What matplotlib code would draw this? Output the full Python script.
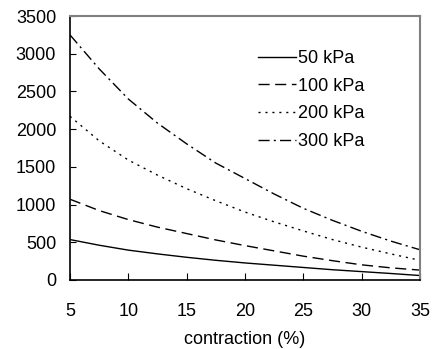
import matplotlib
matplotlib.use("Agg")
import matplotlib.pyplot as plt

# contraction (%) and readings for each pressure
contraction = [5, 7.5, 10, 12.5, 15, 17.5, 20, 22.5, 25, 27.5, 30, 32.5, 35]
kpa_50 = [535, 460, 395, 345, 300, 260, 225, 195, 165, 135, 110, 85, 58]
kpa_100 = [1070, 920, 800, 700, 615, 530, 455, 385, 315, 255, 200, 160, 130]
kpa_200 = [2170, 1845, 1590, 1390, 1210, 1050, 900, 770, 650, 535, 435, 345, 260]
kpa_300 = [3250, 2800, 2400, 2080, 1805, 1550, 1345, 1140, 950, 790, 645, 515, 400]

labels = ["50 kPa", "100 kPa", "200 kPa", "300 kPa"]
x_ticks = [5, 10, 15, 20, 25, 30, 35]
y_ticks = [0, 500, 1000, 1500, 2000, 2500, 3000, 3500]


def main():
    plt.rcParams["font.family"] = ["Liberation Sans", "DejaVu Sans"]
    fig = plt.figure(figsize=(4.32, 3.49), dpi=100)
    ax = fig.add_axes([0.162, 0.198, 0.810, 0.756])

    ax.plot(contraction, kpa_50, color="black", lw=1.0, ls="-",
            label=labels[0])
    ax.plot(contraction, kpa_100, color="black", lw=1.0,
            ls=(0, (8, 4)), label=labels[1])
    ax.plot(contraction, kpa_200, color="black", lw=1.0,
            ls=(0, (1.5, 3.5)), label=labels[2])
    ax.plot(contraction, kpa_300, color="black", lw=1.0,
            ls=(0, (8, 3, 1.5, 3)), label=labels[3])

    ax.set_xlim(5, 35)
    ax.set_ylim(0, 3500)
    ax.set_xticks(x_ticks)
    ax.set_yticks(y_ticks)
    ax.tick_params(axis="x", direction="in", length=5, pad=16.5,
                   labelsize=13)
    ax.tick_params(axis="y", direction="in", length=4, pad=10,
                   labelsize=13)
    for side in ["top", "right"]:
        ax.spines[side].set_color("#808080")
        ax.spines[side].set_linewidth(1.5)
    for side in ["left", "bottom"]:
        ax.spines[side].set_linewidth(1.2)

    ax.set_xlabel("contraction (%)", fontsize=13, labelpad=8)
    ax.legend(loc="upper left", bbox_to_anchor=(0.537, 0.872),
              frameon=False, fontsize=13, handlelength=2.1,
              handletextpad=0.1, labelspacing=0.6, borderpad=0,
              borderaxespad=0)

    fig.savefig("out.png", dpi=100)


if __name__ == "__main__":
    main()
